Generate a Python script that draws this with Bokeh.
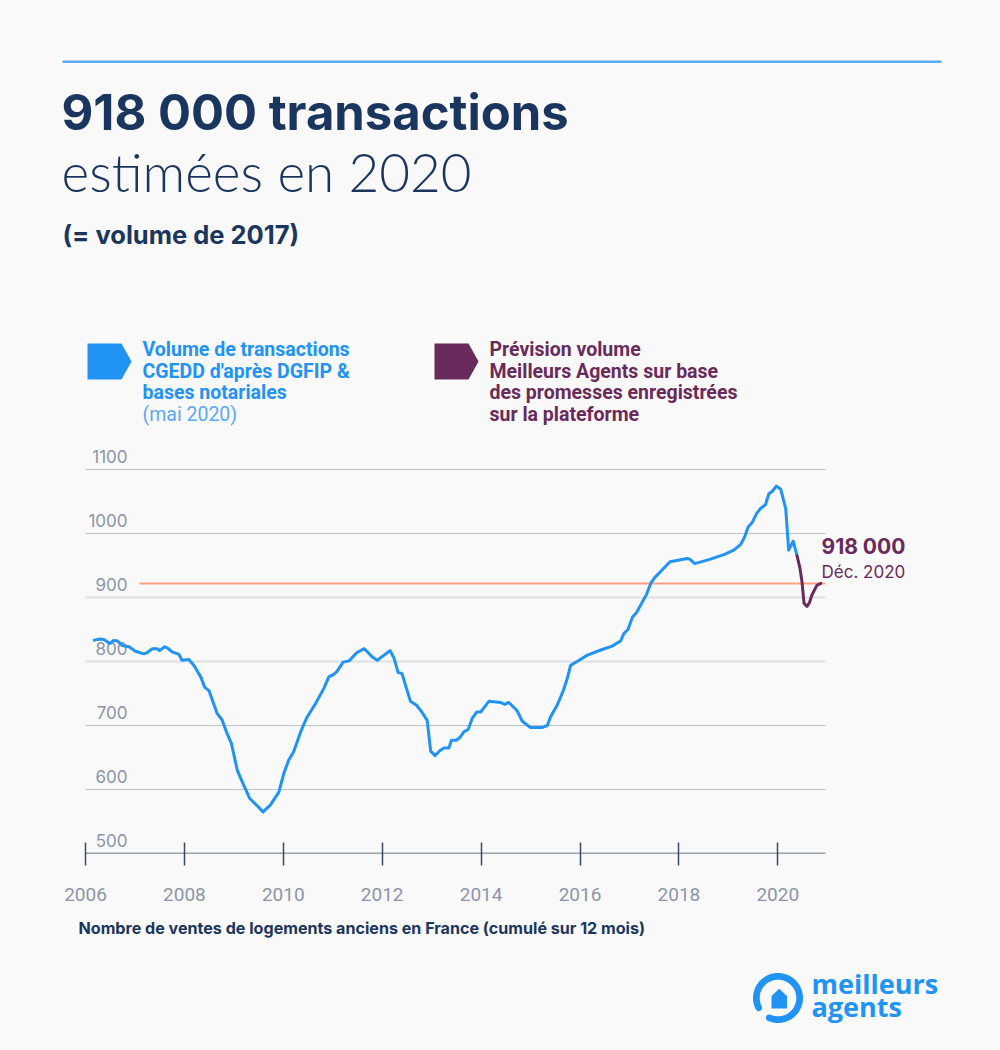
import math
from bokeh.plotting import figure
from bokeh.layouts import column
from bokeh.models import Range1d, FixedTicker
from bokeh.core.properties import value
from bokeh.embed import file_html
from bokeh.resources import INLINE

# ---------------- data ----------------
hist_x = [2006.15, 2006.30, 2006.38, 2006.49, 2006.57, 2006.65, 2006.74, 2006.88, 2007.01, 2007.18,
          2007.25, 2007.35, 2007.45, 2007.50, 2007.60, 2007.66, 2007.75, 2007.89, 2007.95, 2008.09,
          2008.19, 2008.33, 2008.41, 2008.50, 2008.66, 2008.76, 2008.86, 2008.95, 2009.07, 2009.17,
          2009.32, 2009.44, 2009.59, 2009.74, 2009.91, 2010.01, 2010.11, 2010.21, 2010.35, 2010.48,
          2010.65, 2010.82, 2010.92, 2011.02, 2011.09, 2011.21, 2011.33, 2011.49, 2011.64, 2011.80,
          2011.90, 2012.16, 2012.24, 2012.32, 2012.40, 2012.57, 2012.69, 2012.81, 2012.91, 2012.98,
          2013.07, 2013.17, 2013.25, 2013.35, 2013.40, 2013.50, 2013.58, 2013.65, 2013.74, 2013.82,
          2013.91, 2013.99, 2014.16, 2014.39, 2014.48, 2014.56, 2014.73, 2014.83, 2014.99, 2015.24,
          2015.34, 2015.40, 2015.54, 2015.66, 2015.74, 2015.81, 2015.94, 2016.15, 2016.42, 2016.65,
          2016.82, 2016.89, 2016.97, 2017.06, 2017.14, 2017.26, 2017.34, 2017.43, 2017.51, 2017.66,
          2017.82, 2018.17, 2018.22, 2018.32, 2018.64, 2018.91, 2019.11, 2019.25, 2019.33, 2019.40,
          2019.48, 2019.57, 2019.65, 2019.75, 2019.82, 2019.89, 2019.97, 2020.06, 2020.16, 2020.22,
          2020.31, 2020.39]
hist_y = [833, 835, 834, 828, 833, 832, 825, 823, 816, 812,
          814, 820, 820, 817, 823, 821, 815, 811, 802, 803,
          794, 776, 760, 754, 719, 709, 688, 672, 630, 612,
          586, 577, 565, 576, 596, 625, 646, 659, 690, 713,
          734, 758, 776, 780, 785, 799, 801, 814, 820, 807,
          802, 817, 805, 783, 781, 738, 732, 720, 708, 660,
          653, 661, 665, 665, 677, 677, 682, 690, 694, 711,
          721, 721, 738, 736, 733, 736, 723, 707, 697, 697,
          700, 713, 732, 754, 773, 794, 800, 810, 818, 824,
          832, 844, 850, 869, 876, 893, 904, 922, 931, 943,
          956, 961, 960, 953, 960, 967, 974, 983, 995, 1010,
          1017, 1031, 1039, 1045, 1062, 1066, 1074, 1069, 1039, 974,
          988, 965]

forecast_x = [2020.39, 2020.45, 2020.49, 2020.53, 2020.59, 2020.64, 2020.69, 2020.79, 2020.87]
forecast_y = [965, 945, 924, 891, 886, 892, 904, 919, 922]

ref_value = 922          # 918 000 transactions level
ref_start = 2007.09
x_start, x_end = 2006, 2020.965

year_ticks = [2006, 2008, 2010, 2012, 2014, 2016, 2018, 2020]
year_labels = ["2006", "2008", "2010", "2012", "2014", "2016", "2018", "2020"]
y_ticks = [500, 600, 700, 800, 900, 1000, 1100]
y_labels = ["500", "600", "700", "800", "900", "1000", "1100"]
grid_thin = [600, 700, 1000, 1100]
grid_thick = [800, 900]

end_value_label = "918 000"
end_date_label = "Déc. 2020"

# ---------------- style ----------------
BG = "#f9f9f9"
NAVY = "#1b365e"
BLUE = "#2093f5"
LBLUE = "#5aaaf6"
PURPLE = "#6a2a5c"
ORANGE = "#ff9f82"
GREY = "#8c95a8"
AXIS = "#3a4966"
W = 1000
K = 0.4   # baseline correction (fraction of font size)


def blank(height, top, bottom):
    f = figure(width=W, height=height, output_backend="svg", toolbar_location=None,
               x_range=Range1d(0, W), y_range=Range1d(bottom, top),
               x_axis_location=None, y_axis_location=None, min_border=0,
               background_fill_color=BG, border_fill_color=BG, outline_line_color=None)
    f.xgrid.visible = False
    f.ygrid.visible = False
    return f


def txt(f, t, x, y, size, color, font, style="normal"):
    f.text(x=[x], y=[y - K * size], text=[t], text_font=value(font), text_font_size=f"{size}px",
           text_color=color, text_font_style=style, text_baseline="alphabetic", text_align="left")


# ---------------- header ----------------
top = blank(440, 0, 440)
top.patch([62, 941, 941, 62], [60, 60, 62.5, 62.5], fill_color=LBLUE, line_color=None)
txt(top, "918 000 transactions", 61, 132, 49, NAVY, "Inter", "bold")
txt(top, "estimées en 2020", 61, 192, 53, NAVY, "Lato Light")
txt(top, "(= volume de 2017)", 62, 244, 25.5, NAVY, "Inter", "bold")

top.patch([87, 121, 131, 121, 87], [343, 343, 361, 379, 379], fill_color=BLUE, line_color=None)
top.patch([434, 468, 478, 468, 434], [343, 343, 361, 379, 379], fill_color=PURPLE, line_color=None)
leg1 = ["Volume de transactions", "CGEDD d'après DGFIP &", "bases notariales"]
leg2 = ["Prévision volume", "Meilleurs Agents sur base", "des promesses enregistrées",
        "sur la plateforme"]
base = [357, 378.5, 400, 421.5]
for i, t in enumerate(leg1):
    txt(top, t, 142, base[i], 19.5, BLUE, "Roboto", "bold")
txt(top, "(mai 2020)", 142, base[3], 19.5, LBLUE, "Roboto")
for i, t in enumerate(leg2):
    txt(top, t, 489, base[i], 19.5, PURPLE, "Roboto", "bold")

# ---------------- chart ----------------
PX_PER_YEAR = 49.45
x_lo = x_start - 85 / PX_PER_YEAR
x_hi = x_start + (W - 85) / PX_PER_YEAR
p = figure(width=W, height=468, output_backend="svg", toolbar_location=None,
           x_range=Range1d(x_lo, x_hi), y_range=Range1d(500, 500 + 413 / 0.64),
           min_border=0, min_border_bottom=55, y_axis_location=None,
           background_fill_color=BG, border_fill_color=BG, outline_line_color=None)
p.xgrid.visible = False
p.ygrid.visible = False

p.segment(x0=[x_start] * len(grid_thin), y0=grid_thin, x1=[x_end] * len(grid_thin), y1=grid_thin,
          line_color="#bcc2ce", line_width=1)
p.segment(x0=[x_start] * len(grid_thick), y0=grid_thick, x1=[x_end] * len(grid_thick),
          y1=grid_thick, line_color="#dcdfe5", line_width=2)
p.segment(x0=[x_start], y0=[500], x1=[x_end], y1=[500], line_color=AXIS, line_width=1.5)

ax = p.xaxis[0]
ax.ticker = FixedTicker(ticks=year_ticks)
ax.major_label_overrides = {t: l for t, l in zip(year_ticks, year_labels)}
ax.axis_line_color = None
ax.major_tick_line_color = AXIS
ax.major_tick_line_width = 1.5
ax.major_tick_in = 11
ax.major_tick_out = 12
ax.minor_tick_line_color = None
ax.major_label_text_font = "Roboto"
ax.major_label_text_font_size = "19px"
ax.major_label_text_color = GREY
ax.major_label_standoff = 22

p.text(x=[x_start] * len(y_ticks), y=y_ticks, text=y_labels, x_offset=42,
       y_offset=-6 - K * 17, text_align="right", text_baseline="alphabetic",
       text_font=value("Inter"), text_font_size="17px", text_color=GREY)

p.segment(x0=[ref_start], y0=[ref_value], x1=[x_end], y1=[ref_value],
          line_color=ORANGE, line_width=2)
p.line(hist_x, hist_y, line_color=BLUE, line_width=3, line_join="round")
p.line(forecast_x, forecast_y, line_color=PURPLE, line_width=3, line_join="round",
       line_cap="round")

p.text(x=[x_end], y=[ref_value], text=[end_value_label], x_offset=-4, y_offset=-29 - K * 21,
       text_align="left", text_baseline="alphabetic", text_font=value("Inter"),
       text_font_style="bold", text_font_size="21px", text_color=PURPLE)
p.text(x=[x_end], y=[ref_value], text=[end_date_label], x_offset=-4, y_offset=-5 - K * 17,
       text_align="left", text_baseline="alphabetic", text_font=value("Inter"),
       text_font_size="17px", text_color=PURPLE)

# ---------------- footer ----------------
FT = 908
bot = blank(1050 - FT, FT, 1050)
txt(bot, "Nombre de ventes de logements anciens en France (cumulé sur 12 mois)", 78, 933.5, 16.1,
    NAVY, "Inter", "bold")

cx, cy, R, r = 777.5, 997.5, 25.0, 18.3
a0, a1 = math.radians(246), math.radians(567)
n = 80
rx, ry = [], []


def add(x, y):
    rx.append(x)
    ry.append(y)


for k in range(n + 1):
    a = a0 + (a1 - a0) * k / n
    add(cx + R * math.cos(a), cy - R * math.sin(a))
rm, rc = (R + r) / 2, (R - r) / 2
ecx, ecy = cx + rm * math.cos(a1), cy - rm * math.sin(a1)
for k in range(13):
    t = a1 + math.pi * k / 12
    add(ecx + rc * math.cos(t), ecy - rc * math.sin(t))
for k in range(n + 1):
    a = a1 - (a1 - a0) * k / n
    add(cx + r * math.cos(a), cy - r * math.sin(a))
scx, scy = cx + rm * math.cos(a0), cy - rm * math.sin(a0)
for k in range(13):
    t = a0 + math.pi + math.pi * k / 12
    add(scx + rc * math.cos(t), scy - rc * math.sin(t))
bot.patch(rx, ry, fill_color=BLUE, line_color=None)
bot.patch([771, 778.7, 786.5, 786.5, 771], [995.5, 988.3, 995.5, 1008, 1008],
          fill_color=BLUE, line_color=None)
txt(bot, "meilleurs", 811, 993.5, 27, BLUE, "Open Sans", "bold")
txt(bot, "agents", 811, 1017, 27, BLUE, "Open Sans", "bold")

layout = column(top, p, bot, spacing=0)
html = file_html(layout, INLINE, title="918 000 transactions")
html = html.replace("<body>", '<body style="background:#f9f9f9">')
open("out.html", "w").write(html)
